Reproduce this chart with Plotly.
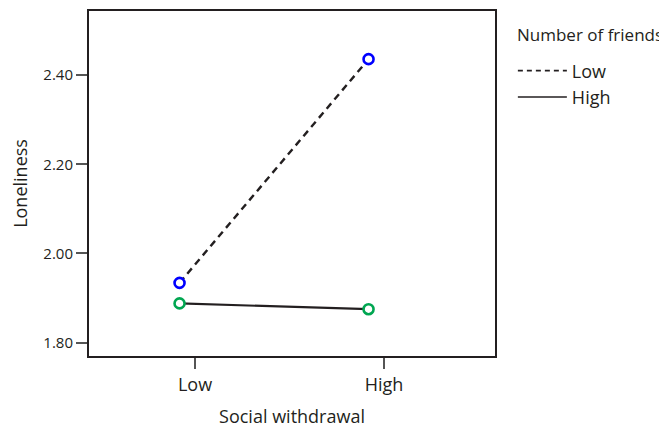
import numpy as np
import plotly.graph_objects as go

categories = ["Low", "High"]
low_friends = [1.934, 2.436]
high_friends = [1.888, 1.875]
y_ticks = [1.80, 2.00, 2.20, 2.40]

FONT = "Open Sans"
INK = "#231f20"

pos = np.arange(len(categories))
xpts = pos - 0.082

fig = go.Figure()
fig.add_trace(go.Scatter(
    x=xpts, y=low_friends, mode="lines+markers", showlegend=False,
    line=dict(color=INK, width=2.4, dash="7px,5px"),
    marker=dict(symbol="circle", size=10, color="white", line=dict(width=2.6, color="#0000ff")),
))
fig.add_trace(go.Scatter(
    x=xpts, y=high_friends, mode="lines+markers", showlegend=False,
    line=dict(color=INK, width=2.2),
    marker=dict(symbol="circle", size=10, color="white", line=dict(width=2.6, color="#00a651")),
))
# legend entries (lines only)
fig.add_trace(go.Scatter(x=[None], y=[None], mode="lines", name="Low",
                         line=dict(color=INK, width=1.6, dash="5px,4px")))
fig.add_trace(go.Scatter(x=[None], y=[None], mode="lines", name="High",
                         line=dict(color=INK, width=1.6)))

fig.update_layout(
    width=659, height=421,
    margin=dict(l=81, r=172, t=1, b=73),
    paper_bgcolor="white", plot_bgcolor="white",
    font=dict(family=FONT, size=18, color=INK),
    showlegend=True,
    legend=dict(
        x=1.044, y=0.88, xanchor="left", yanchor="top",
        font=dict(size=18), itemwidth=49, bgcolor="rgba(0,0,0,0)",
        tracegroupgap=0,
    ),
    annotations=[dict(
        text="Number of friends", xref="paper", yref="paper",
        x=1.05, y=0.972, xanchor="left", yanchor="top", showarrow=False,
        font=dict(size=17),
    )],
)
fig.update_xaxes(
    range=[-0.561, 1.587], tickvals=pos, ticktext=categories,
    showline=True, linecolor=INK, linewidth=2, mirror=True,
    ticks="outside", ticklen=11, tickcolor="#555555", tickwidth=1.5,
    showgrid=False, zeroline=False, tickfont=dict(size=18),
    title=dict(text="Social withdrawal", font=dict(size=18), standoff=16),
)
fig.update_yaxes(
    range=[1.770, 2.544], tickvals=y_ticks, tickformat=".2f",
    showline=True, linecolor=INK, linewidth=2, mirror=True,
    ticks="outside", ticklen=11, tickcolor="#555555", tickwidth=1.5,
    showgrid=False, zeroline=False, tickfont=dict(size=15), ticklabelstandoff=0,
    title=dict(text="Loneliness", font=dict(size=18), standoff=20),
)

fig.write_html("out.html")
